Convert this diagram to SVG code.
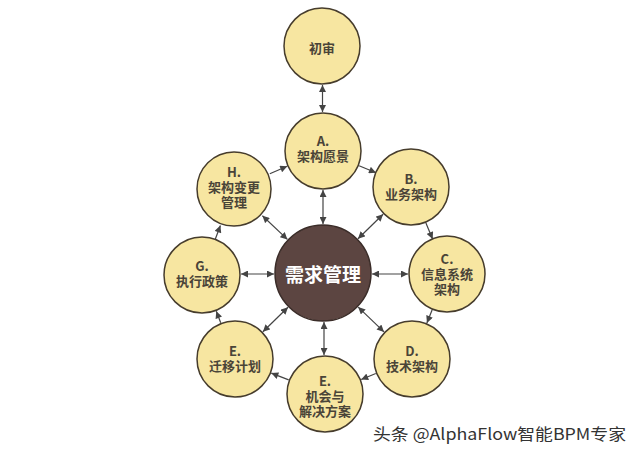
<svg xmlns="http://www.w3.org/2000/svg" width="640" height="455" viewBox="0 0 640 455">
<defs>
<style>
.n{fill:#f7e6a1;stroke:#463c2c;stroke-width:1.5}
.m{fill:#5c4541;stroke:#3a2c28;stroke-width:1.5}
.t{font-family:"Noto Sans CJK SC","Noto Sans",sans-serif;font-weight:bold;font-size:13px;fill:#4a4438;text-anchor:middle;dominant-baseline:central}
.tm{font-family:"Noto Sans CJK SC","Noto Sans",sans-serif;font-weight:bold;font-size:19px;fill:#ffffff;text-anchor:middle;dominant-baseline:central}
.c line{stroke:#444;stroke-width:1.2}
.w{font-family:"Noto Sans CJK SC","Noto Sans",sans-serif;font-size:16px;fill:#333}
</style>
<marker id="ah" viewBox="0 0 10 10" refX="10" refY="5" markerWidth="8" markerHeight="7" markerUnits="userSpaceOnUse" orient="auto-start-reverse">
<path d="M0,0 L10,5 L0,10 z" fill="#444"/>
</marker>
</defs>
<rect width="640" height="455" fill="#ffffff"/>
<g class="c" id="connectors">
<line x1="322.5" y1="85" x2="322.5" y2="112" marker-start="url(#ah)" marker-end="url(#ah)"/>
<line x1="323" y1="190" x2="323" y2="224" marker-start="url(#ah)" marker-end="url(#ah)"/>
<line x1="383.1" y1="214.3" x2="358" y2="238.7" marker-start="url(#ah)" marker-end="url(#ah)"/>
<line x1="408" y1="274" x2="372" y2="274" marker-start="url(#ah)" marker-end="url(#ah)"/>
<line x1="384" y1="331.9" x2="358.2" y2="307.1" marker-start="url(#ah)" marker-end="url(#ah)"/>
<line x1="324" y1="355" x2="324" y2="322" marker-start="url(#ah)" marker-end="url(#ah)"/>
<line x1="262.9" y1="331.7" x2="288" y2="307.3" marker-start="url(#ah)" marker-end="url(#ah)"/>
<line x1="241" y1="274" x2="274" y2="274" marker-start="url(#ah)" marker-end="url(#ah)"/>
<line x1="262.4" y1="215.8" x2="287.4" y2="239.4" marker-start="url(#ah)" marker-end="url(#ah)"/>
<line x1="359.1" y1="165.8" x2="376" y2="172.7" marker-end="url(#ah)"/>
<line x1="425.9" y1="223" x2="432.6" y2="239" marker-end="url(#ah)"/>
<line x1="432.1" y1="310.1" x2="426.9" y2="322.9" marker-end="url(#ah)"/>
<line x1="375.8" y1="373.5" x2="361.2" y2="379.5" marker-end="url(#ah)"/>
<line x1="288.7" y1="379.9" x2="271.3" y2="373.1" marker-end="url(#ah)"/>
<line x1="220.7" y1="322.7" x2="216.3" y2="311.3" marker-end="url(#ah)"/>
<line x1="214.6" y1="241" x2="220.4" y2="225.5" marker-end="url(#ah)"/>
<line x1="269.8" y1="173.7" x2="287.2" y2="166.3" marker-end="url(#ah)"/>
</g>
<g id="node-review"><circle class="n" cx="322" cy="46" r="38"/><text class="t" x="322" y="47">初审</text></g>
<g id="node-a"><circle class="n" cx="323" cy="151" r="38"/><text class="t" x="323" y="140">A.<tspan x="323" dy="15">架构愿景</tspan></text></g>
<g id="node-b"><circle class="n" cx="411" cy="187" r="38"/><text class="t" x="411" y="178">B.<tspan x="411" dy="15">业务架构</tspan></text></g>
<g id="node-c"><circle class="n" cx="447" cy="274" r="38"/><text class="t" x="447" y="258">C.<tspan x="447" dy="15">信息系统</tspan><tspan x="447" dy="15">架构</tspan></text></g>
<g id="node-d"><circle class="n" cx="412" cy="359" r="38"/><text class="t" x="412" y="350">D.<tspan x="412" dy="15">技术架构</tspan></text></g>
<g id="node-e2"><circle class="n" cx="325" cy="394" r="38"/><text class="t" x="325" y="380">E.<tspan x="325" dy="15">机会与</tspan><tspan x="325" dy="15">解决方案</tspan></text></g>
<g id="node-e1"><circle class="n" cx="235" cy="359" r="38"/><text class="t" x="235" y="350">E.<tspan x="235" dy="15">迁移计划</tspan></text></g>
<g id="node-g"><circle class="n" cx="202" cy="275" r="38"/><text class="t" x="202" y="265">G.<tspan x="202" dy="15">执行政策</tspan></text></g>
<g id="node-h"><circle class="n" cx="234" cy="189" r="37"/><text class="t" x="234" y="171">H.<tspan x="234" dy="15">架构变更</tspan><tspan x="234" dy="15">管理</tspan></text></g>
<g id="node-center"><circle class="m" cx="323" cy="273" r="48"/><text class="tm" x="323" y="273">需求管理</text></g>
<text class="w" x="373" y="440" textLength="253" lengthAdjust="spacingAndGlyphs">头条 @AlphaFlow智能BPM专家</text>
</svg>
